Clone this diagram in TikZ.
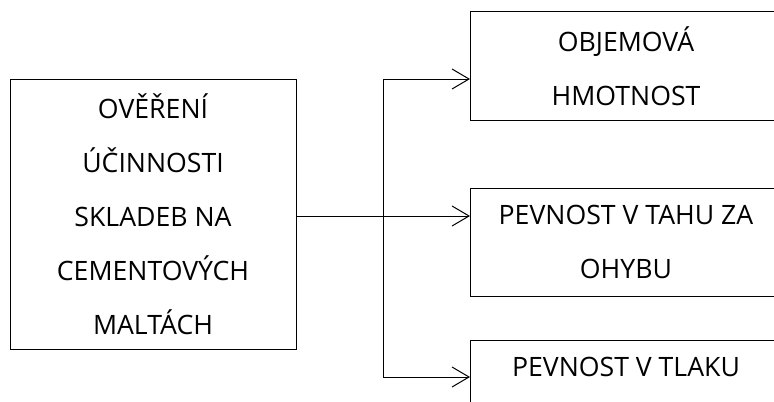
\documentclass[tikz,border=0pt]{standalone}
\usepackage{fontspec}
\setmainfont{Open Sans}
\usetikzlibrary{arrows.meta}

\begin{document}
\begin{tikzpicture}[x=0.75pt,y=0.75pt,line width=0.75pt,
    box/.style={draw,rectangle,align=center,inner sep=0pt,
      font={\fontsize{20}{40.5}\selectfont}},
    link/.style={-{Straight Barb[length=12.75pt,width=15pt]}}]
  \useasboundingbox (0,0) rectangle (774,401);
%   boxes
  \node[box,minimum width=214.5pt,minimum height=202.5pt] (overeni) at (153,187)
    {OVĚŘENÍ\\ÚČINNOSTI\\SKLADEB NA\\CEMENTOVÝCH\\MALTÁCH};
  \node[box,minimum width=234pt,minimum height=81pt] (objem) at (626,335)
    {OBJEMOVÁ\\HMOTNOST};
  \node[box,minimum width=234pt,minimum height=81pt] (tah) at (626,159)
    {PEVNOST V TAHU ZA\\OHYBU};
  \node[box,minimum width=234pt,minimum height=81pt] (tlak) at (626,7)
    {PEVNOST V TLAKU\\~};
%   branching
  \coordinate (fork) at (383,185);
  \coordinate (in1) at (470,322);
  \coordinate (in2) at (470,185);
  \coordinate (in3) at (470,24);
  \draw (overeni.east |- fork) -- (fork);
  \draw[link] (fork) |- (in1);
  \draw[link] (fork) -- (in2);
  \draw[link] (fork) |- (in3);
\end{tikzpicture}
\end{document}
